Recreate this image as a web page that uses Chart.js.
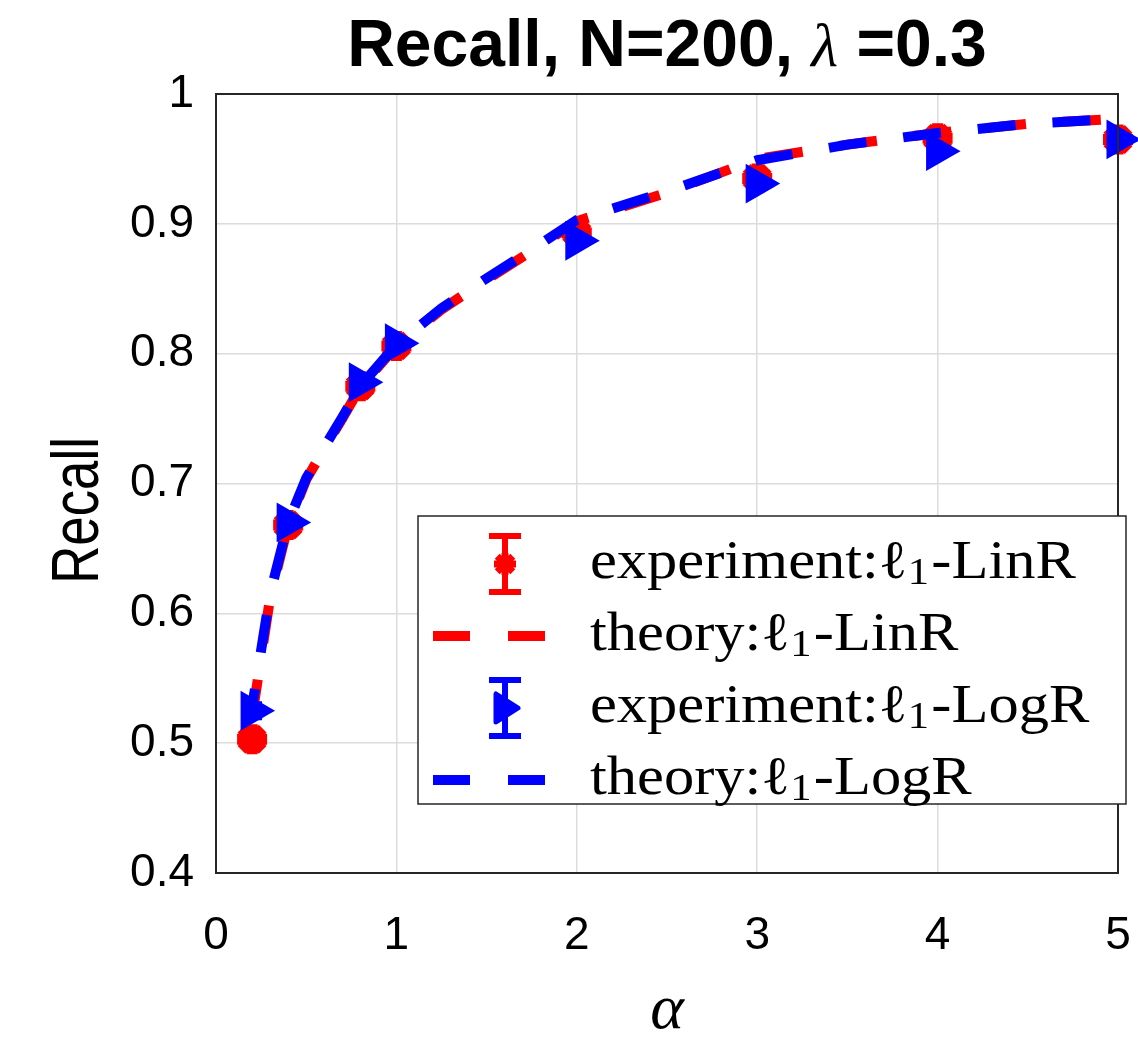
<!DOCTYPE html>
<html>
<head>
<meta charset="utf-8">
<script src="https://cdn.jsdelivr.net/npm/chart.js@4.4.1/dist/chart.umd.min.js"></script>
<style>
  html, body { margin: 0; padding: 0; background: #fff; }
  #wrap { width: 1138px; height: 1043px; position: relative; }
</style>
</head>
<body>
<div id="wrap"><canvas id="c"></canvas></div>
<script>
// experiment points (alpha) and measured recall
const alphaExp = [0.2, 0.4, 0.8, 1, 2, 3, 4, 5];
const linRExp = [0.503, 0.668, 0.775, 0.806, 0.893, 0.935, 0.966, 0.965];
const linRErr = [0.004, 0.004, 0.004, 0.003, 0.003, 0.003, 0.003, 0.003];
const logRExp = [0.525, 0.670, 0.778, 0.808, 0.887, 0.931, 0.956, 0.965];
const logRErr = [0.005, 0.004, 0.004, 0.003, 0.003, 0.003, 0.003, 0.003];

// theory curves
const alphaTheory = [0.2, 0.3, 0.4, 0.5, 0.6, 0.7, 0.8, 0.9, 1, 1.25, 1.5, 1.75, 2, 2.5, 3, 3.5, 4, 4.5, 5];
const linRTheory = [0.52, 0.612, 0.668, 0.703, 0.727, 0.75, 0.774, 0.79, 0.806, 0.834, 0.857, 0.879, 0.902, 0.924, 0.95, 0.961, 0.970, 0.977, 0.981];
const logRTheory = [0.528, 0.615, 0.670, 0.704, 0.728, 0.751, 0.775, 0.791, 0.807, 0.835, 0.858, 0.880, 0.903, 0.925, 0.949, 0.961, 0.970, 0.977, 0.981];

const xTicks = [0, 1, 2, 3, 4, 5];
const yTicks = [0.4, 0.5, 0.6, 0.7, 0.8, 0.9, 1];

const titleParts = [
  { text: "Recall, N=200, ", font: "bold 66px 'Liberation Sans'" },
  { text: "\u03bb", font: "italic 62px 'Liberation Serif'" },
  { text: " =0.3", font: "bold 66px 'Liberation Sans'" }
];
const yLabel = "Recall";

const legendItems = [
  { kind: "exp", color: "#ff0000", marker: "star", pre: "experiment:", post: "-LinR" },
  { kind: "line", color: "#ff0000", pre: "theory:", post: "-LinR" },
  { kind: "exp", color: "#0000ff", marker: "tri", pre: "experiment:", post: "-LogR" },
  { kind: "line", color: "#0000ff", pre: "theory:", post: "-LogR" }
];

function pts(xs, ys) {
  return xs.map((x, i) => ({ x: x, y: ys[i] }));
}

// error bars drawn through the chart's own scales
const errorBars = {
  id: "errorBars",
  beforeDatasetsDraw(chart) {
    const { ctx, scales } = chart;
    chart.data.datasets.forEach(ds => {
      if (!ds.errors) return;
      ctx.save();
      ctx.strokeStyle = ds.borderColor;
      ctx.lineWidth = 6;
      ds.data.forEach((p, i) => {
        const px = scales.x.getPixelForValue(p.x);
        const y0 = scales.y.getPixelForValue(p.y - ds.errors[i]);
        const y1 = scales.y.getPixelForValue(p.y + ds.errors[i]);
        ctx.beginPath();
        ctx.moveTo(px, y0); ctx.lineTo(px, y1);
        ctx.moveTo(px - 10, y0); ctx.lineTo(px + 10, y0);
        ctx.moveTo(px - 10, y1); ctx.lineTo(px + 10, y1);
        ctx.stroke();
      });
      ctx.restore();
    });
  }
};

function drawStar(ctx, cx, cy, r) {
  for (let k = 0; k < 4; k++) {
    const a = k * Math.PI / 4;
    ctx.beginPath();
    ctx.moveTo(cx - r * Math.cos(a), cy - r * Math.sin(a));
    ctx.lineTo(cx + r * Math.cos(a), cy + r * Math.sin(a));
    ctx.stroke();
  }
}

// frame, title, y label and legend
const decorations = {
  id: "decorations",
  afterDraw(chart) {
    const { ctx, chartArea: a } = chart;
    ctx.save();
    ctx.strokeStyle = "#262626";
    ctx.lineWidth = 2;
    ctx.strokeRect(a.left, a.top, a.right - a.left, a.bottom - a.top);

    // title
    ctx.fillStyle = "#000";
    ctx.textBaseline = "alphabetic";
    let tw = 0;
    titleParts.forEach(p => { ctx.font = p.font; tw += ctx.measureText(p.text).width; });
    ctx.save();
    ctx.translate((a.left + a.right) / 2 - tw / 2, 66);
    let tx = 0;
    titleParts.forEach(p => {
      ctx.font = p.font;
      ctx.fillText(p.text, tx, 0);
      tx += ctx.measureText(p.text).width;
    });
    ctx.restore();

    // y axis label
    ctx.save();
    ctx.translate(98, (a.top + a.bottom) / 2 + 27);
    ctx.rotate(-Math.PI / 2);
    ctx.scale(0.8, 1);
    ctx.font = "66px 'Liberation Sans'";
    ctx.textAlign = "center";
    ctx.fillText(yLabel, 0, 0);
    ctx.restore();

    // legend box
    const bx = a.left + 202, by = a.top + 422;
    const bw = a.right + 8 - bx, bh = 288;
    ctx.fillStyle = "#fff";
    ctx.fillRect(bx, by, bw, bh);
    ctx.lineWidth = 1.5;
    ctx.strokeStyle = "#262626";
    ctx.strokeRect(bx, by, bw, bh);

    legendItems.forEach((it, i) => {
      const cy = by + 48 + i * 72;
      ctx.strokeStyle = it.color;
      ctx.fillStyle = it.color;
      if (it.kind === "line") {
        ctx.lineWidth = 10;
        ctx.beginPath();
        ctx.moveTo(bx + 15, cy); ctx.lineTo(bx + 52, cy);
        ctx.moveTo(bx + 90, cy); ctx.lineTo(bx + 127, cy);
        ctx.stroke();
      } else {
        const cx = bx + 87;
        ctx.lineWidth = 6;
        ctx.beginPath();
        ctx.moveTo(cx, cy - 28); ctx.lineTo(cx, cy + 28);
        ctx.moveTo(cx - 16, cy - 28); ctx.lineTo(cx + 16, cy - 28);
        ctx.moveTo(cx - 16, cy + 28); ctx.lineTo(cx + 16, cy + 28);
        ctx.stroke();
        if (it.marker === "star") {
          ctx.lineWidth = 7;
          drawStar(ctx, cx, cy, 11);
        } else {
          ctx.beginPath();
          ctx.moveTo(cx + 13, cy);
          ctx.lineTo(cx - 9, cy - 14);
          ctx.lineTo(cx - 9, cy + 14);
          ctx.closePath();
          ctx.lineWidth = 5;
          ctx.lineJoin = "round";
          ctx.fill();
          ctx.stroke();
        }
      }
      // legend text, LaTeX-like serif with subscript
      ctx.fillStyle = "#000";
      ctx.textBaseline = "middle";
      ctx.textAlign = "left";
      ctx.save();
      ctx.translate(bx + 172, cy);
      ctx.scale(1.12, 1);
      ctx.font = "54px 'Liberation Serif'";
      let x = 0;
      ctx.fillText(it.pre, x, 0); x += ctx.measureText(it.pre).width;
      ctx.fillText("\u2113", x, 0); x += ctx.measureText("\u2113").width;
      ctx.font = "38px 'Liberation Serif'";
      ctx.fillText("1", x, 10); x += ctx.measureText("1").width + 2;
      ctx.font = "54px 'Liberation Serif'";
      ctx.fillText(it.post, x, 0);
      ctx.restore();
    });
    ctx.restore();
  }
};

const ctx = document.getElementById("c").getContext("2d");
new Chart(ctx, {
  type: "scatter",
  data: {
    datasets: [
      {
        label: "theory:l1-LogR",
        type: "line",
        data: pts(alphaTheory, logRTheory),
        borderColor: "#0000ff",
        borderWidth: 10,
        borderDash: [38, 37],
        borderDashOffset: 20,
        pointRadius: 0,
        fill: false,
        tension: 0,
        clip: false,
        order: 0
      },
      {
        label: "experiment:l1-LogR",
        data: pts(alphaExp, logRExp),
        errors: logRErr,
        borderColor: "#0000ff",
        backgroundColor: "#0000ff",
        pointStyle: "triangle",
        rotation: 90,
        pointRadius: 14,
        borderWidth: 9,
        clip: false,
        order: 1
      },
      {
        label: "theory:l1-LinR",
        type: "line",
        data: pts(alphaTheory, linRTheory),
        borderColor: "#ff0000",
        borderWidth: 10,
        borderDash: [38, 37],
        borderDashOffset: 0,
        pointRadius: 0,
        fill: false,
        tension: 0,
        clip: false,
        order: 2
      },
      {
        label: "experiment:l1-LinR",
        data: pts(alphaExp, linRExp),
        errors: linRErr,
        borderColor: "#ff0000",
        backgroundColor: "#ff0000",
        pointStyle: "star",
        pointRadius: 15,
        borderWidth: 11,
        clip: false,
        order: 3
      }
    ]
  },
  options: {
    responsive: true,
    maintainAspectRatio: false,
    animation: false,
    layout: { autoPadding: false, padding: { left: 0, right: 20, top: 94, bottom: 0 } },
    plugins: {
      legend: { display: false },
      tooltip: { enabled: false },
      title: { display: false }
    },
    scales: {
      x: {
        type: "linear",
        min: 0, max: 5,
        afterBuildTicks: s => { s.ticks = xTicks.map(v => ({ value: v })); },
        afterFit: s => { s.height = 170; s.paddingRight = 0; s.paddingLeft = 0; },
        ticks: {
          color: "#000",
          padding: 36,
          maxRotation: 0,
          font: { family: "'Liberation Sans', Arial, sans-serif", size: 46 }
        },
        grid: { color: "#dcdcdc", lineWidth: 1.5, drawTicks: false },
        border: { display: false },
        title: {
          display: true,
          text: "\u03b1",
          color: "#000",
          font: { family: "'Liberation Serif', serif", size: 64, style: "italic", lineHeight: 1 },
          padding: { top: 0, bottom: 0 }
        }
      },
      y: {
        type: "linear",
        min: 0.4, max: 1,
        afterBuildTicks: s => { s.ticks = yTicks.map(v => ({ value: v })); },
        afterFit: s => {
          s.width = 216;
          s.paddingTop = 0; s.paddingBottom = 0;
          s.paddingLeft = 0; s.paddingRight = 0;
        },
        ticks: {
          color: "#000",
          padding: 22,
          font: { family: "'Liberation Sans', Arial, sans-serif", size: 46 },
          callback: v => String(Math.round(v * 10) / 10)
        },
        grid: { color: "#dcdcdc", lineWidth: 1.5, drawTicks: false },
        border: { display: false },
        title: { display: false }
      }
    }
  },
  plugins: [errorBars, decorations]
});
</script>
</body>
</html>
